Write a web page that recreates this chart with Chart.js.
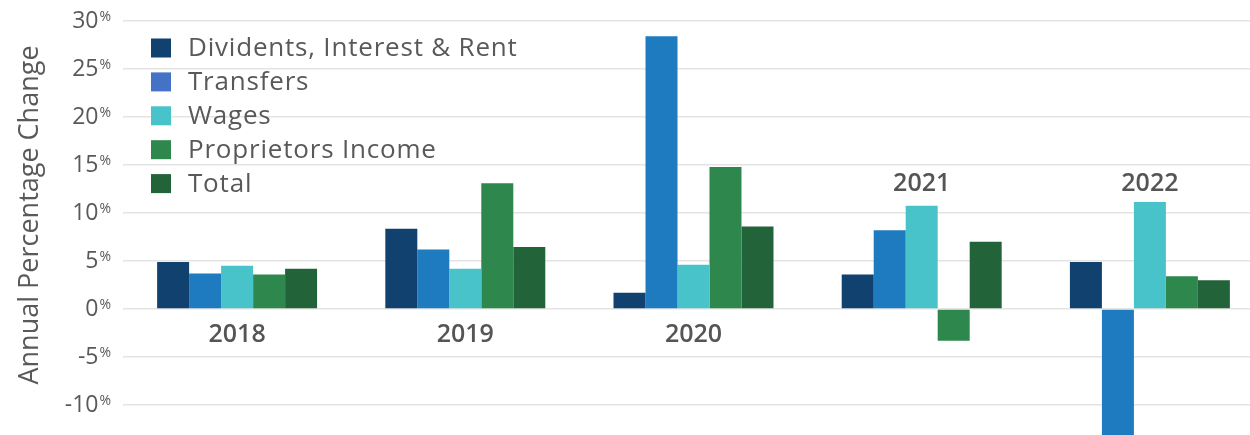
<!DOCTYPE html>
<html>
<head>
<meta charset="utf-8">
<script src="https://cdn.jsdelivr.net/npm/chart.js@4/dist/chart.umd.min.js"></script>
<style>
html,body{margin:0;padding:0;background:#fff;overflow:hidden;}
#wrap{width:1264px;height:435px;position:relative;}
</style>
</head>
<body>
<div id="wrap"><canvas id="c"></canvas></div>
<script>
const categories = ['2018', '2019', '2020', '2021', '2022'];
const seriesNames = ['Dividents, Interest & Rent', 'Transfers', 'Wages', 'Proprietors Income', 'Total'];
const dividends = [4.9, 8.35, 1.7, 3.6, 4.9];
const transfers = [3.7, 6.2, 28.4, 8.2, -14.5];
const wages = [4.5, 4.2, 4.6, 10.75, 11.15];
const proprietors = [3.6, 13.1, 14.8, -3.3, 3.4];
const total = [4.2, 6.45, 8.6, 7.0, 3.0];
const yTicks = [-10, -5, 0, 5, 10, 15, 20, 25, 30];

const barColors = ['#10416f', '#1f7bbf', '#48c3c9', '#2e874c', '#23633a'];
const legendColors = ['#10416f', '#4472c4', '#48c3c9', '#2e874c', '#23633a'];
const textColor = '#595959';

const seriesValues = [dividends, transfers, wages, proprietors, total];

const customDraw = {
  id: 'customDraw',
  afterDatasetsDraw(chart) {
    const ctx = chart.ctx;
    const y = chart.scales.y;
    const x = chart.scales.x;
    ctx.save();
    // y tick labels with small superscript %
    yTicks.forEach(v => {
      const py = y.getPixelForValue(v);
      ctx.textBaseline = 'middle';
      ctx.fillStyle = textColor;
      ctx.font = '14px "Open Sans"';
      ctx.textAlign = 'right';
      const pw = ctx.measureText('%').width;
      ctx.fillText('%', 111, py - 4);
      ctx.font = '23px "Open Sans"';
      ctx.fillText(String(v), 111 - pw - 1, py);
    });
    // y title
    ctx.save();
    ctx.translate(30, 215);
    ctx.rotate(-Math.PI / 2);
    ctx.font = '27px "Open Sans"';
    ctx.fillStyle = textColor;
    ctx.textAlign = 'center';
    ctx.textBaseline = 'middle';
    ctx.fillText('Annual Percentage Change', 0, 0);
    ctx.restore();
    // category labels
    ctx.font = '600 25px "Open Sans"';
    ctx.fillStyle = '#555555';
    ctx.textAlign = 'center';
    ctx.textBaseline = 'middle';
    categories.forEach((c, i) => {
      const px = x.getPixelForValue(i);
      const py = i < 3 ? y.getPixelForValue(0) + 26 : y.getPixelForValue(13);
      ctx.fillText(c, px, py);
    });
    // legend
    ctx.font = '26px "Open Sans"';
    ctx.letterSpacing = '0.8px';
    ctx.textAlign = 'left';
    ctx.textBaseline = 'middle';
    seriesNames.forEach((n, i) => {
      const cy = 48 + i * 33.9;
      ctx.fillStyle = legendColors[i];
      ctx.fillRect(151, cy - 9.5, 20, 19);
      ctx.fillStyle = textColor;
      ctx.fillText(n, 188, cy + 1);
    });
    ctx.restore();
  }
};

new Chart(document.getElementById('c'), {
  type: 'bar',
  data: {
    labels: categories,
    datasets: seriesNames.map((n, i) => ({
      label: n,
      data: seriesValues[i],
      backgroundColor: barColors[i],
      borderWidth: 0,
      categoryPercentage: 0.701,
      barPercentage: 1
    }))
  },
  options: {
    responsive: true,
    maintainAspectRatio: false,
    animation: false,
    layout: { padding: { top: 21, left: 0, right: 0, bottom: 0 } },
    plugins: { legend: { display: false }, tooltip: { enabled: false } },
    scales: {
      x: { display: false },
      y: {
        min: -13.125,
        max: 30,
        afterBuildTicks(scale) { scale.ticks = yTicks.map(v => ({ value: v })); },
        afterFit(scale) { scale.width = 123; },
        ticks: { display: false },
        border: { display: false },
        grid: { color: '#e4e4e4', lineWidth: 1.5, drawTicks: false }
      }
    }
  },
  plugins: [customDraw]
});
</script>
</body>
</html>
